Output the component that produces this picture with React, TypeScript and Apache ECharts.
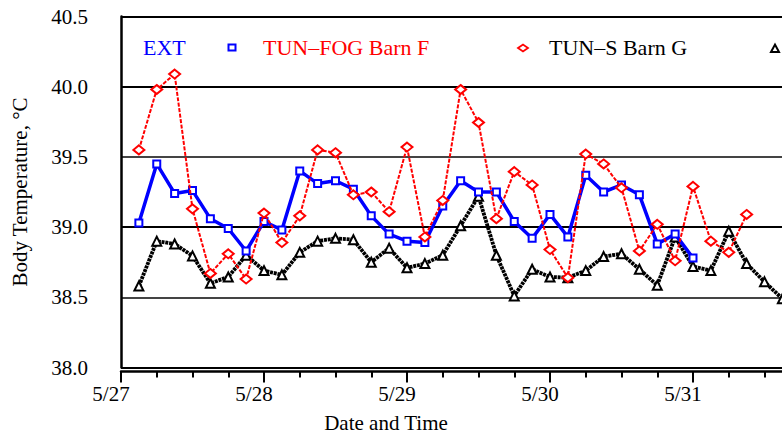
import React, { useEffect, useRef } from "react";
import * as echarts from "echarts";

const dateLabels = ["5/27", "5/28", "5/29", "5/30", "5/31"];
const yTickLabels = ["38.0", "38.5", "39.0", "39.5", "40.0", "40.5"];

// hours since 5/27 00:00 for each reading
const timeHours = [
  3, 6, 9, 12, 15, 18, 21, 24, 27, 30, 33, 36, 39, 42, 45, 48, 51, 54, 57, 60,
  63, 66, 69, 72, 75, 78, 81, 84, 87, 90, 93, 96, 99, 102, 105, 108, 111,
];

const extValues = [
  39.03, 39.45, 39.24, 39.26, 39.06, 38.99, 38.83, 39.04, 38.98, 39.4, 39.31,
  39.33, 39.27, 39.08, 38.95, 38.9, 38.89, 39.15, 39.33, 39.25, 39.25, 39.04,
  38.92, 39.09, 38.93, 39.37, 39.25, 39.3, 39.23, 38.88, 38.95, 38.78,
];

const tunFogValues = [
  39.55, 39.98, 40.09, 39.13, 38.67, 38.81, 38.63, 39.1, 38.89, 39.08, 39.55,
  39.53, 39.23, 39.25, 39.11, 39.57, 38.93, 39.19, 39.98, 39.745, 39.06, 39.395,
  39.3, 38.84, 38.64, 39.52, 39.45, 39.28, 38.83, 39.02, 38.76, 39.29, 38.9,
  38.82, 39.09,
];

const tunSValues = [
  38.58, 38.9, 38.88, 38.795, 38.6, 38.645, 38.8, 38.69, 38.66, 38.82, 38.9,
  38.92, 38.91, 38.75, 38.85, 38.71, 38.74, 38.8, 39.01, 39.22, 38.8, 38.51,
  38.7, 38.645, 38.64, 38.69, 38.79, 38.81, 38.7, 38.585, 38.93, 38.72, 38.69,
  38.97, 38.74, 38.61, 38.49,
];

const FONT = "'Liberation Serif', 'Times New Roman', serif";

function pairs(values: number[]) {
  return values.map((v, i) => [timeHours[i] / 24, v]);
}

export default function App() {
  const ref = useRef<HTMLDivElement>(null);
  useEffect(() => {
    if (!ref.current) return;
    const chart = echarts.init(ref.current, undefined, { renderer: "svg" });
    chart.setOption({
      animation: false,
      backgroundColor: "#fff",
      grid: {
        left: 121,
        width: 715,
        top: 16.5,
        height: 351,
        containLabel: false,
        outerBoundsMode: "none",
      },
      xAxis: [
        {
          type: "value",
          min: 0,
          max: 5,
          interval: 0.25,
          offset: 4,
          axisLine: { show: true, onZero: false, lineStyle: { color: "#000", width: 2.5 } },
          axisTick: { show: true, inside: false, length: 6, lineStyle: { color: "#000", width: 2 } },
          splitLine: { show: false },
          axisLabel: {
            show: true,
            margin: 12,
            color: "#000",
            fontFamily: FONT,
            fontSize: 21,
            padding: [0, 20, 0, 0],
            formatter: (v: number) => {
              const r = Math.round(v);
              if (Math.abs(v - r) < 1e-6 && r < dateLabels.length) return dateLabels[r];
              return "";
            },
          },
        },
        {
          type: "value",
          min: -0.5,
          max: 4.5,
          interval: 1,
          offset: 4,
          position: "bottom",
          axisLine: { show: false },
          axisTick: { show: true, length: 11, lineStyle: { color: "#000", width: 2 } },
          axisLabel: { show: false },
          splitLine: { show: false },
        },
      ],
      yAxis: {
        type: "value",
        min: 38,
        max: 40.5,
        interval: 0.5,
        name: "Body Temperature, °C",
        nameLocation: "middle",
        nameRotate: 90,
        nameGap: 91,
        nameTextStyle: { fontFamily: FONT, fontSize: 21, color: "#000" },
        axisLine: { show: true, lineStyle: { color: "#000", width: 2.5 } },
        axisTick: { show: false },
        axisLabel: {
          margin: 33,
          color: "#000",
          fontFamily: FONT,
          fontSize: 21,
          formatter: (v: number) => {
            const idx = Math.round((v - 38) / 0.5);
            return yTickLabels[idx] ?? "";
          },
        },
        splitLine: {
          show: true,
          lineStyle: {
            color: ["#000", "#444", "#000", "#444", "#000", "#000"],
            width: 2,
          },
        },
      },
      graphic: [
        {
          type: "text",
          left: 143,
          top: 36,
          style: { text: "EXT", fill: "#0000ff", fontFamily: FONT, fontSize: 22 },
        },
        {
          type: "rect",
          shape: { x: 228.5, y: 44.5, width: 7, height: 6 },
          style: { fill: "#fff", stroke: "#0000ff", lineWidth: 2 },
        },
        {
          type: "text",
          left: 263,
          top: 36,
          style: { text: "TUN–FOG Barn F", fill: "#ff0000", fontFamily: FONT, fontSize: 22 },
        },
        {
          type: "polygon",
          shape: { points: [[518, 48], [523, 44.5], [528, 48], [523, 51.5]] },
          style: { fill: "#fff", stroke: "#ff0000", lineWidth: 1.8 },
        },
        {
          type: "text",
          left: 549,
          top: 36,
          style: { text: "TUN–S Barn G", fill: "#000", fontFamily: FONT, fontSize: 22 },
        },
        {
          type: "polygon",
          shape: { points: [[771, 52], [775, 44.5], [779, 52]] },
          style: { fill: "#fff", stroke: "#000", lineWidth: 2 },
        },
        {
          type: "text",
          x: 386,
          y: 423,
          style: {
            text: "Date and Time",
            fill: "#000",
            fontFamily: FONT,
            fontSize: 21,
            align: "center",
            verticalAlign: "middle",
          },
        },
      ],
      series: [
        {
          name: "EXT",
          type: "line",
          data: pairs(extValues),
          symbol: "emptyRect",
          symbolSize: 7,
          itemStyle: { color: "#0000ff", borderWidth: 2 },
          lineStyle: { color: "#0000ff", width: 3.5 },
          z: 3,
        },
        {
          name: "TUN–FOG Barn F",
          type: "line",
          data: pairs(tunFogValues),
          symbol: "emptyDiamond",
          symbolSize: [11, 9],
          itemStyle: { color: "#ff0000", borderWidth: 1.6 },
          lineStyle: { color: "#ff0000", width: 2, type: [4, 1.5] },
          z: 4,
        },
        {
          name: "TUN–S Barn G",
          type: "line",
          data: pairs(tunSValues),
          symbol: "emptyTriangle",
          symbolSize: 9,
          itemStyle: { color: "#000", borderWidth: 1.8 },
          lineStyle: { color: "#000", width: 3.8, type: [3, 0.8] },
          z: 2,
        },
      ],
    });
    return () => chart.dispose();
  }, []);
  return (
    <div
      ref={ref}
      style={{ position: "fixed", left: 0, top: 0, width: 782, height: 434, background: "#fff" }}
    />
  );
}
